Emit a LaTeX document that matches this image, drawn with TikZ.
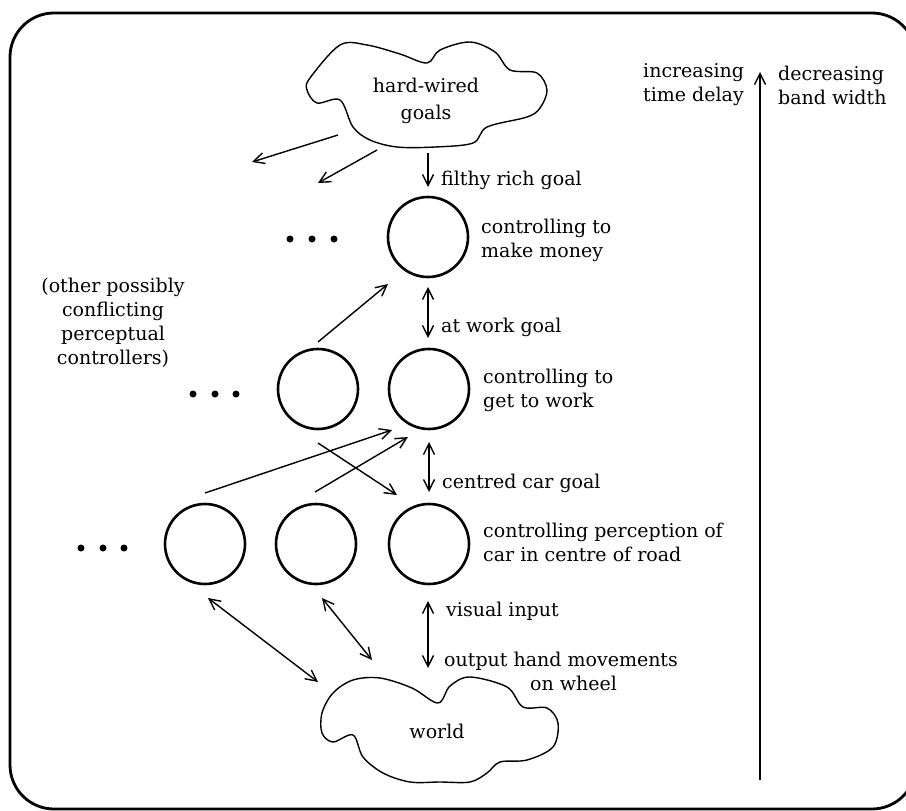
\documentclass[tikz,border=0pt]{standalone}
\usepackage{fontspec}
\setmainfont{DejaVu Serif}
\usetikzlibrary{arrows.meta}
\newcommand{\lblfont}{\fontsize{19}{24}\selectfont}
\begin{document}
\begin{tikzpicture}[x=1pt,y=-1pt,
  ctrl/.style={circle, draw, line width=2.6pt, minimum size=80pt, inner sep=0pt},
  lbl/.style={anchor=west, align=left, font=\lblfont, inner sep=0pt},
  arr/.style={line width=1.4pt, -{Straight Barb[length=11pt,width=11pt]}},
  darr/.style={line width=1.4pt, {Straight Barb[length=11pt,width=11pt]}-{Straight Barb[length=11pt,width=11pt]}},
  cloudline/.style={line width=1.4pt},
  dot/.style={circle, fill, inner sep=0pt, minimum size=7pt}]
\useasboundingbox (0,0) rectangle (906,811);
\draw[line width=2.8pt, rounded corners=44pt] (10,13) rectangle (916,809);

% clouds
\draw[cloudline] plot[smooth cycle, tension=0.55] coordinates {
  (310,78) (340,45) (367,45) (400,54) (427,63) (440,50) (470,42) (495,52) (510,70)
  (537,73) (547,90) (540,108) (527,117) (487,127) (473,143) (435,147) (397,147)
  (370,140) (353,127) (340,100) (317,103) (307,90)};
\node[font=\fontsize{19}{27}\selectfont, align=center] (goals) at (426,101) {hard-wired\\goals};

\draw[cloudline] plot[smooth cycle, tension=0.55] coordinates {
  (353,680) (380,678) (412,688) (438,703) (450,686) (470,677) (507,687) (523,707)
  (547,708) (558,723) (553,747) (527,760) (500,762) (487,773) (470,782) (440,782)
  (410,782) (383,773) (363,757) (353,735) (333,742) (322,733) (322,713) (333,693)};
\node[font=\lblfont] (world) at (437,731) {world};

% controllers
\node[ctrl] (c1) at (428,237) {};
\node[ctrl] (c21) at (318,389) {};
\node[ctrl] (c22) at (429,389) {};
\node[ctrl] (c31) at (205,544) {};
\node[ctrl] (c32) at (316,544) {};
\node[ctrl] (c33) at (429,544) {};

% dots
\foreach \x/\n in {290/a,312/b,334/c} \node[dot] (d1\n) at (\x,239) {};
\foreach \x/\n in {193/a,215/b,236/c} \node[dot] (d2\n) at (\x,394) {};
\foreach \x/\n in {81/a,103/b,124/c} \node[dot] (d3\n) at (\x,548) {};

% labels
\node[lbl] (l1) at (441,180) {filthy rich goal};
\node[lbl] (l2) at (481,240) {controlling to\\make money};
\node[lbl] (l3) at (441,327) {at work goal};
\node[font=\lblfont, align=center, inner sep=0pt] (l4) at (113,323) {(other possibly\\conflicting\\perceptual\\controllers)};
\node[lbl] (l5) at (483,390) {controlling to\\get to work};
\node[lbl] (l6) at (442,483) {centred car goal};
\node[lbl] (l7) at (483,542) {controlling perception of\\car in centre of road};
\node[lbl] (l8) at (446,611) {visual input};
\node[lbl] (l9) at (444,671) {output hand movements\\\hspace{86pt}on wheel};
\node[lbl] (l10) at (643,85) {increasing\\time delay};
\node[lbl] (l11) at (778,85) {decreasing\\band width};

% connector end points
\coordinate (g1s) at (338,135); \coordinate (g1e) at (252,162);
\coordinate (g2s) at (377,150); \coordinate (g2e) at (318,183);
\coordinate (fs) at (428,153);  \coordinate (fe) at (428,187);
\coordinate (ws) at (428,287);  \coordinate (we) at (428,338);
\coordinate (a5s) at (318,342); \coordinate (a5e) at (388,284);
\coordinate (a6s) at (205,493); \coordinate (a6e) at (392,430);
\coordinate (a7s) at (315,492); \coordinate (a7e) at (408,437);
\coordinate (a8s) at (318,443); \coordinate (a8e) at (397,495);
\coordinate (cs) at (429,442);  \coordinate (ce) at (429,492);
\coordinate (b1s) at (208,598); \coordinate (b1e) at (318,682);
\coordinate (b2s) at (322,598); \coordinate (b2e) at (372,660);
\coordinate (vs) at (428,601);  \coordinate (ve) at (428,668);
\coordinate (ts) at (760,780);  \coordinate (te) at (760,72);

\draw[arr] (g1s) -- (g1e);
\draw[arr] (g2s) -- (g2e);
\draw[arr] (fs) -- (fe);
\draw[darr] (ws) -- (we);
\draw[arr] (a5s) -- (a5e);
\draw[arr] (a6s) -- (a6e);
\draw[arr] (a7s) -- (a7e);
\draw[arr] (a8s) -- (a8e);
\draw[darr] (cs) -- (ce);
\draw[darr] (b1s) -- (b1e);
\draw[darr] (b2s) -- (b2e);
\draw[darr] (vs) -- (ve);
\draw[arr] (ts) -- (te);
\end{tikzpicture}
\end{document}
